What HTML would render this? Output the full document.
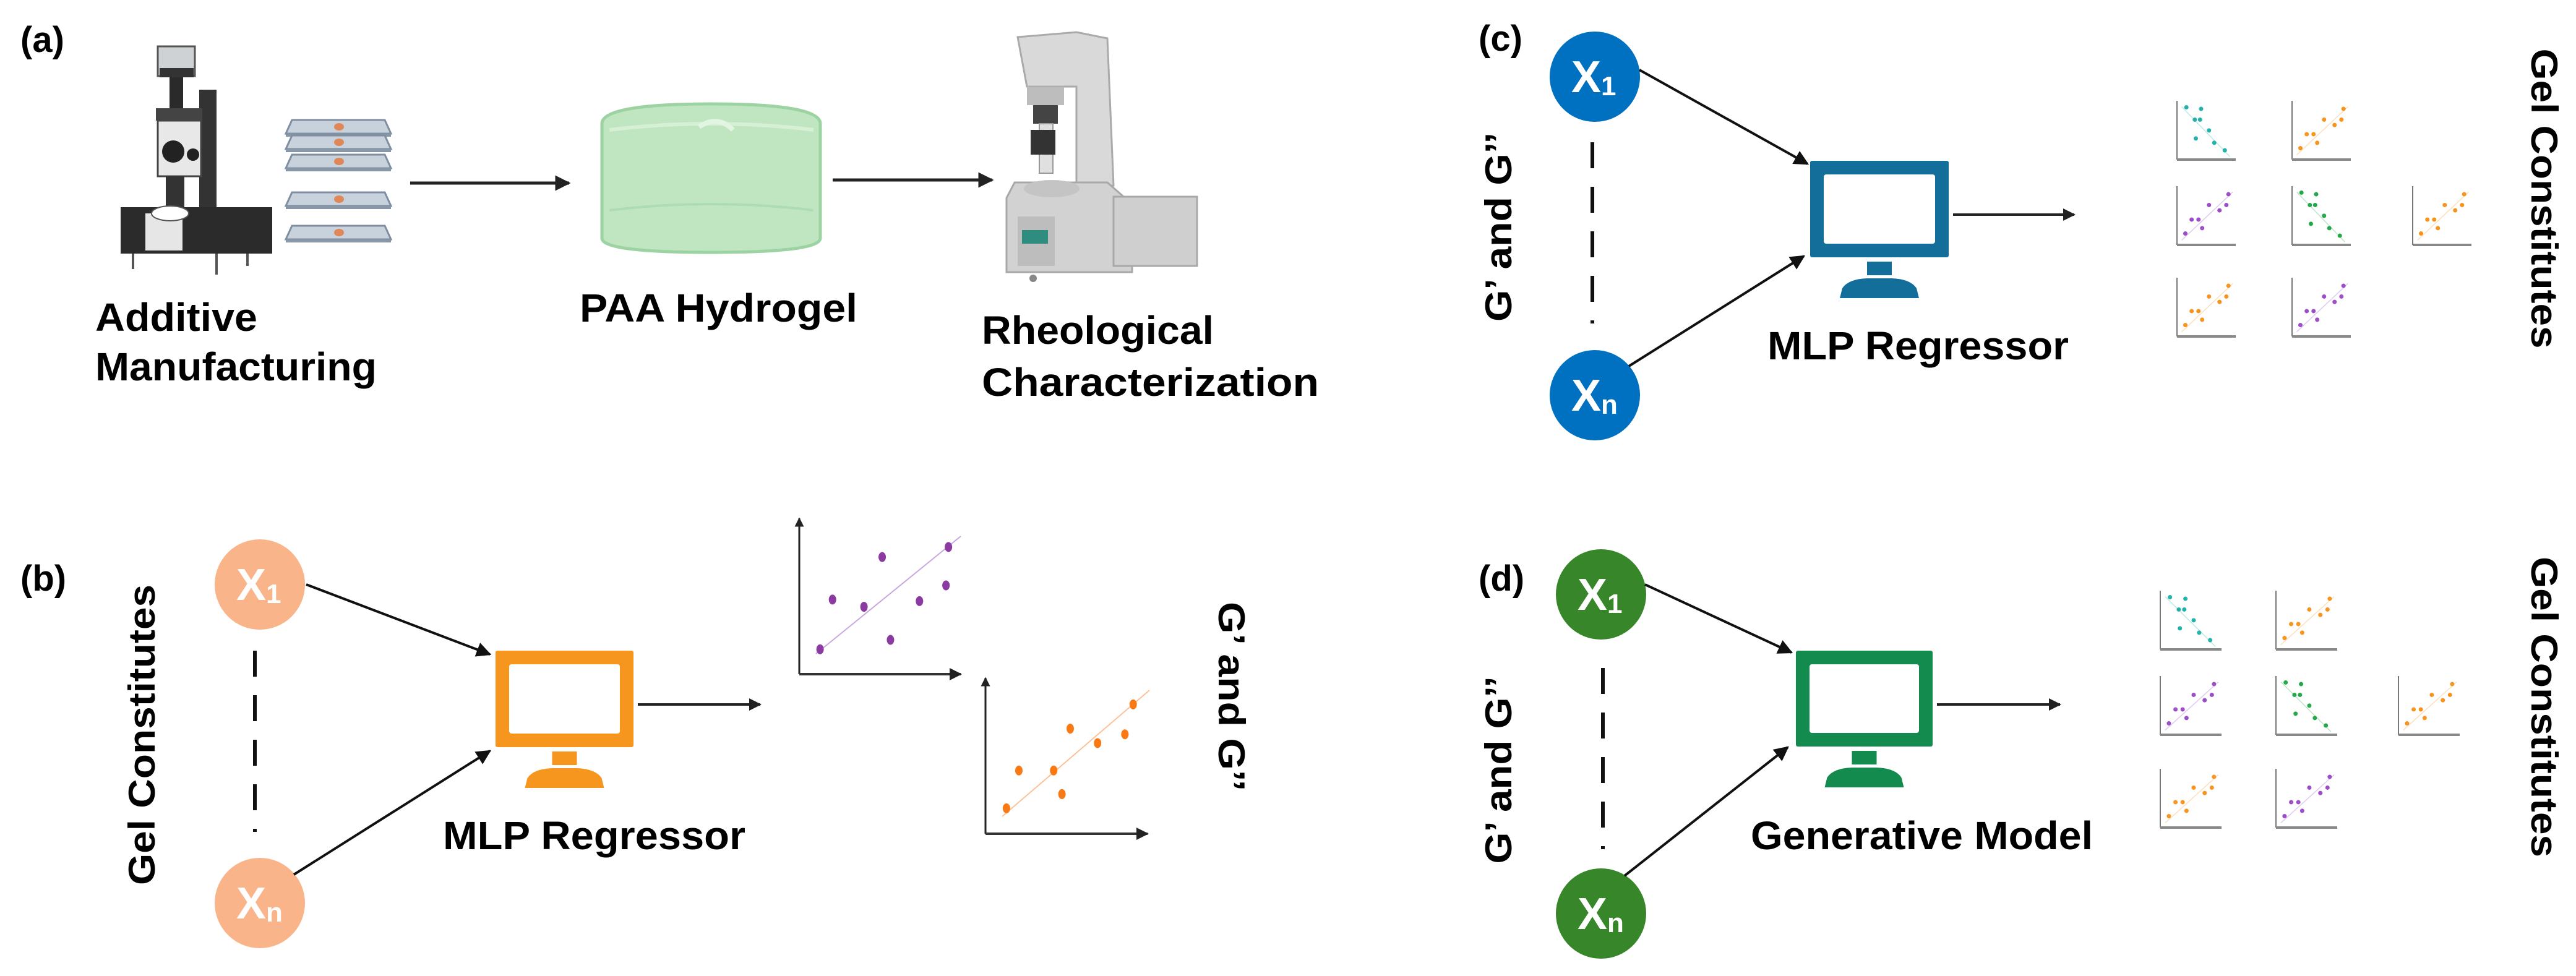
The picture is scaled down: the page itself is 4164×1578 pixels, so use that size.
<!DOCTYPE html>
<html><head><meta charset="utf-8"><style>
html,body{margin:0;padding:0;background:#fff}
svg{display:block}
text{font-family:"Liberation Sans",Arial,sans-serif;font-weight:bold}
</style></head><body>
<svg id="s" width="4164" height="1578" viewBox="0 0 4164 1578" xmlns="http://www.w3.org/2000/svg">
<defs>
<marker id="ah" viewBox="0 0 10 10" refX="9" refY="5" markerWidth="6" markerHeight="6" orient="auto" markerUnits="strokeWidth"><path d="M0,0 L10,5 L0,10 z" fill="#111"/></marker>
<marker id="ah2" viewBox="0 0 10 10" refX="9" refY="5" markerWidth="5" markerHeight="5" orient="auto" markerUnits="strokeWidth"><path d="M0,0 L10,5 L0,10 z" fill="#222"/></marker>
</defs>
<rect width="4164" height="1578" fill="#fff"/>

<!-- ===== (a) ===== -->
<text x="33" y="84" font-size="58">(a)</text>
<!-- microscope -->
<g>
 <rect x="255" y="75" width="60" height="48" fill="#cfd2d4" stroke="#555" stroke-width="3"/>
 <rect x="258" y="110" width="55" height="15" fill="#333"/>
 <rect x="274" y="125" width="22" height="240" fill="#2a2a2a"/>
 <rect x="322" y="145" width="28" height="205" fill="#333"/>
 <rect x="252" y="175" width="75" height="20" fill="#444"/>
 <rect x="255" y="195" width="70" height="90" fill="#e8e8e8" stroke="#444" stroke-width="3"/>
 <circle cx="280" cy="245" r="18" fill="#222"/>
 <circle cx="312" cy="250" r="10" fill="#222"/>
 <rect x="268" y="285" width="30" height="50" fill="#333"/>
 <rect x="195" y="335" width="245" height="75" fill="#2b2b2b"/>
 <rect x="235" y="345" width="60" height="60" fill="#e6e6e6"/>
 <ellipse cx="275" cy="345" rx="30" ry="12" fill="#fff" stroke="#555" stroke-width="2"/>
 <line x1="215" y1="410" x2="215" y2="435" stroke="#555" stroke-width="4"/>
 <line x1="350" y1="410" x2="350" y2="444" stroke="#555" stroke-width="4"/>
 <line x1="400" y1="410" x2="400" y2="430" stroke="#555" stroke-width="4"/>
</g>
<!-- slides -->
<g id="slides"></g>
<line x1="663" y1="296" x2="920" y2="296" stroke="#222" stroke-width="5" marker-end="url(#ah2)"/>
<!-- hydrogel -->
<g>
 <path d="M973,200 Q973,168 1150,168 Q1326,168 1326,200 L1326,385 Q1326,408 1150,408 Q973,408 973,385 Z" fill="#bfe6c0" stroke="#9dd3a3" stroke-width="5"/>
 <path d="M985,210 Q1150,190 1315,210" fill="none" stroke="#d5f0d5" stroke-width="6"/>
 <path d="M985,340 Q1150,320 1315,340" fill="none" stroke="#aedcb2" stroke-width="4"/>
 <path d="M1130,205 Q1160,185 1185,210" fill="none" stroke="#e2f5e2" stroke-width="8"/>
</g>
<line x1="1346" y1="291" x2="1604" y2="291" stroke="#222" stroke-width="5" marker-end="url(#ah2)"/>
<!-- rheometer -->
<g>
 <path d="M1645,60 L1740,52 L1790,62 L1800,300 L1740,300 L1740,140 L1660,140 Z" fill="#d9d9d9" stroke="#aaa" stroke-width="3"/>
 <rect x="1660" y="140" width="60" height="30" fill="#bdbdbd"/>
 <rect x="1670" y="170" width="40" height="30" fill="#444"/>
 <rect x="1680" y="200" width="22" height="80" fill="#e0e0e0" stroke="#999" stroke-width="2"/>
 <rect x="1666" y="210" width="40" height="40" fill="#333"/>
 <path d="M1640,295 L1790,295 L1830,330 L1830,440 L1627,440 L1627,320 Z" fill="#d2d2d2" stroke="#a8a8a8" stroke-width="3"/>
 <ellipse cx="1700" cy="305" rx="45" ry="14" fill="#c4c4c4"/>
 <rect x="1800" y="318" width="135" height="112" fill="#cfcfcf" stroke="#a8a8a8" stroke-width="3"/>
 <rect x="1645" y="350" width="60" height="80" fill="#bdbdbd"/>
 <rect x="1652" y="372" width="42" height="22" fill="#2f8d80"/>
 <circle cx="1670" cy="450" r="6" fill="#888"/>
</g>
<text x="154" y="535" font-size="64" textLength="262" lengthAdjust="spacingAndGlyphs">Additive</text>
<text x="154" y="615" font-size="64" textLength="455" lengthAdjust="spacingAndGlyphs">Manufacturing</text>
<text x="937" y="520" font-size="64" textLength="449" lengthAdjust="spacingAndGlyphs">PAA Hydrogel</text>
<text x="1587" y="556" font-size="64" textLength="375" lengthAdjust="spacingAndGlyphs">Rheological</text>
<text x="1587" y="640" font-size="64" textLength="545" lengthAdjust="spacingAndGlyphs">Characterization</text>

<!-- ===== (b) ===== -->
<text x="33" y="955" font-size="58">(b)</text>
<text transform="translate(250,1188) rotate(-90)" text-anchor="middle" font-size="60" textLength="486" lengthAdjust="spacingAndGlyphs">Gel Constitutes</text>
<g id="panelB"></g>
<text x="716" y="1373" font-size="64" textLength="489" lengthAdjust="spacingAndGlyphs">MLP Regressor</text>
<text transform="translate(1970,1126) rotate(90)" text-anchor="middle" font-size="60" textLength="306" lengthAdjust="spacingAndGlyphs">G’ and G’’</text>

<!-- ===== (c) ===== -->
<text x="2390" y="82" font-size="58">(c)</text>
<text transform="translate(2443,367) rotate(-90)" text-anchor="middle" font-size="60" textLength="306" lengthAdjust="spacingAndGlyphs">G’ and G’’</text>
<text x="2857" y="581" font-size="64" textLength="487" lengthAdjust="spacingAndGlyphs">MLP Regressor</text>
<text transform="translate(4092,321) rotate(90)" text-anchor="middle" font-size="60" textLength="485" lengthAdjust="spacingAndGlyphs">Gel Constitutes</text>

<!-- ===== (d) ===== -->
<text x="2390" y="955" font-size="58">(d)</text>
<text transform="translate(2443,1245) rotate(-90)" text-anchor="middle" font-size="60" textLength="303" lengthAdjust="spacingAndGlyphs">G’ and G’’</text>
<text x="2830" y="1373" font-size="64" textLength="553" lengthAdjust="spacingAndGlyphs">Generative Model</text>
<text transform="translate(4092,1143) rotate(90)" text-anchor="middle" font-size="60" textLength="486" lengthAdjust="spacingAndGlyphs">Gel Constitutes</text>

<g id="dyn"></g>
</svg>
<script>
var NS="http://www.w3.org/2000/svg";
var dyn=document.getElementById('dyn');
function el(t,a,p){var e=document.createElementNS(NS,t);for(var k in a)e.setAttribute(k,a[k]);(p||dyn).appendChild(e);return e;}
function txt(x,y,s,fs,fill,p){var e=el('text',{x:x,y:y,'font-size':fs,fill:fill},p);e.textContent=s;return e;}
// slides
[194,219,250,311,365].forEach(function(y){
 el('path',{d:'M472,'+y+' L622,'+y+' L632,'+(y+22)+' L462,'+(y+22)+' Z',fill:'#c8d2dc',stroke:'#7f8ea0','stroke-width':3});
 el('rect',{x:462,y:y+22,width:170,height:5,fill:'#8797a8'});
 el('ellipse',{cx:548,cy:y+11,rx:8,ry:6,fill:'#e0875a'});
});
// nodes block
function block(o){
 var c=o.col;
 el('circle',{cx:o.x1,cy:o.y1,r:73,fill:c});
 el('circle',{cx:o.x1,cy:o.yn,r:73,fill:c});
 var t=txt(o.x1-38,o.y1+25,'X',72,'#fff');
 txt(o.x1+10,o.y1+30,'1',44,'#fff');
 txt(o.x1-38,o.yn+25,'X',72,'#fff');
 txt(o.x1+10,o.yn+30,'n',44,'#fff');
 el('line',{x1:o.dx,y1:o.d1,x2:o.dx,y2:o.d2,stroke:'#111','stroke-width':6,'stroke-dasharray':'42,30'});
 el('line',{x1:o.a1[0],y1:o.a1[1],x2:o.a1[2],y2:o.a1[3],stroke:'#111','stroke-width':4,'marker-end':'url(#ah)'});
 el('line',{x1:o.a2[0],y1:o.a2[1],x2:o.a2[2],y2:o.a2[3],stroke:'#111','stroke-width':4,'marker-end':'url(#ah)'});
 var m=o.m, mc=o.mcol;
 el('rect',{x:m[0],y:m[1],width:m[2]-m[0],height:m[3]-m[1],fill:mc,rx:3});
 el('rect',{x:m[0]+22,y:m[1]+22,width:m[2]-m[0]-44,height:m[3]-m[1]-44,fill:'#fff',rx:4});
 var cx=(m[0]+m[2])/2;
 el('rect',{x:cx-20,y:m[3]+7,width:40,height:22,fill:mc});
 el('path',{d:'M'+(cx-64)+','+(m[3]+66)+' L'+(cx-60)+','+(m[3]+50)+' Q'+(cx-50)+','+(m[3]+35)+' '+(cx-20)+','+(m[3]+34)+' L'+(cx+20)+','+(m[3]+34)+' Q'+(cx+50)+','+(m[3]+35)+' '+(cx+60)+','+(m[3]+50)+' L'+(cx+64)+','+(m[3]+66)+' Z',fill:mc});
 el('line',{x1:m[2]+7,y1:o.ay,x2:o.ax,y2:o.ay,stroke:'#222','stroke-width':4,'marker-end':'url(#ah2)'});
}
block({col:'#F9B48A',x1:420,y1:945,yn:1460,dx:412,d1:1052,d2:1345,a1:[495,945,792,1058],a2:[475,1414,792,1214],m:[801,1052,1024,1208],mcol:'#F7961E',ax:1229,ay:1139});
block({col:'#0070C0',x1:2578,y1:124,yn:639,dx:2574,d1:230,d2:523,a1:[2650,113,2922,265],a2:[2633,592,2916,414],m:[2926,260,3150,416],mcol:'#146E9A',ax:3353,ay:347});
block({col:'#38862A',x1:2588,y1:961,yn:1477,dx:2591,d1:1080,d2:1373,a1:[2659,945,2896,1055],a2:[2626,1416,2890,1208],m:[2903,1052,3124,1207],mcol:'#138A4E',ax:3330,ay:1139});
// big charts in (b)
function bigChart(ox,oy,w,h,col,lc,pts,line){
 el('line',{x1:ox,y1:oy,x2:ox,y2:oy-h,stroke:'#222','stroke-width':3,'marker-end':'url(#ah2)'});
 el('line',{x1:ox,y1:oy,x2:ox+w,y2:oy,stroke:'#333','stroke-width':4,'marker-end':'url(#ah2)'});
 el('line',{x1:line[0],y1:line[1],x2:line[2],y2:line[3],stroke:lc,'stroke-width':2});
 pts.forEach(function(p){el('ellipse',{cx:p[0],cy:p[1],rx:6,ry:8,fill:col});});
}
function cv(dx,dy){return [dx*1.339,780+dy*0.509];}
var pp=[[990,530],[1005,372],[1043,395],[1065,237],[1075,500],[1110,377],[1142,327],[1145,205]].map(function(p){return cv(p[0],p[1]);});
bigChart(1292,1090,261,252,'#8A3AA0','#c9a8e0',pp,[1319,1057,1553,867]);
var po=[[1215,1035],[1230,915],[1272,915],[1282,990],[1292,782],[1325,828],[1358,800],[1368,705]].map(function(p){return cv(p[0],p[1]);});
bigChart(1593,1348,262,252,'#F97A14','#fbc29a',po,[1620,1320,1858,1116]);
// small charts
var C={t:'#22B2AA',o:'#F7941D',p:'#9B4DCA',g:'#23A84A'};
function small(x,y,w,h,c,desc){
 el('line',{x1:x,y1:y,x2:x,y2:y+h,stroke:'#777','stroke-width':2});
 el('line',{x1:x,y1:y+h,x2:x+w,y2:y+h,stroke:'#888','stroke-width':4});
 var col=C[c], pts;
 if(desc){pts=[[.12,.12],[.4,.15],[.28,.35],[.38,.35],[.55,.55],[.3,.7],[.65,.78],[.85,.92]];
  el('line',{x1:x+w*.08,y1:y+h*.1,x2:x+w*.9,y2:y+h*.95,stroke:col,'stroke-opacity':.3,'stroke-width':1.5});}
 else{pts=[[.1,.88],[.22,.62],[.35,.62],[.42,.78],[.55,.35],[.75,.45],[.88,.35],[.92,.15]];
  el('line',{x1:x+w*.08,y1:y+h*.92,x2:x+w*.95,y2:y+h*.1,stroke:col,'stroke-opacity':.3,'stroke-width':1.5});}
 pts.forEach(function(p){el('circle',{cx:x+5+p[0]*(w-10),cy:y+p[1]*(h-8),r:3.5,fill:col});});
}
function grid(cols,rows,w,h){
 var spec=[[0,0,'t',1],[1,0,'o',0],[0,1,'p',0],[1,1,'g',1],[2,1,'o',0],[0,2,'o',0],[1,2,'p',0]];
 spec.forEach(function(s){small(cols[s[0]],rows[s[1]],w,h,s[2],s[3]);});
}
grid([3519,3705,3900],[163,301,449],95,95);
grid([3492,3679,3877],[955,1093,1243],99,95);
</script>
</body></html>
